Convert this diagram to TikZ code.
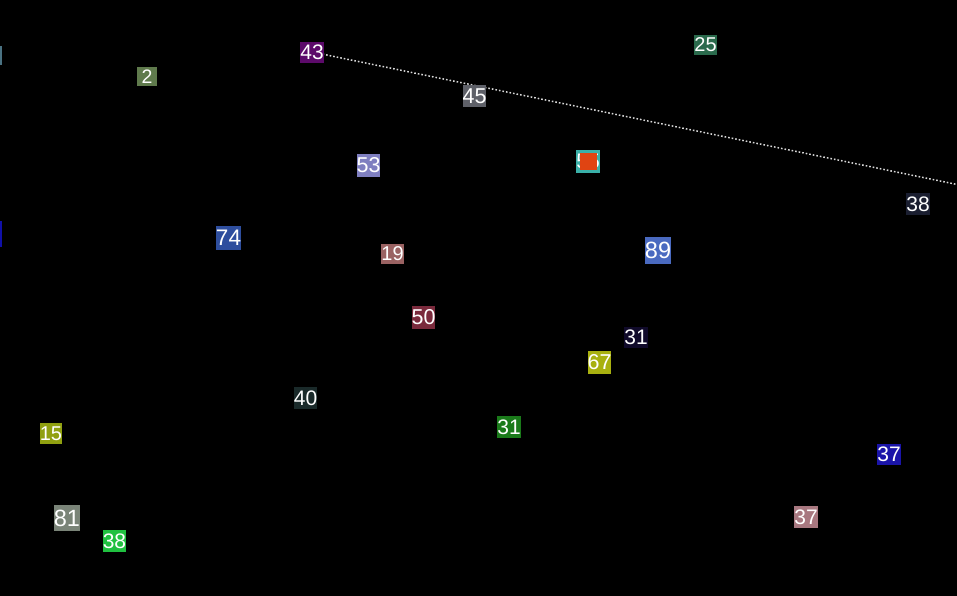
\documentclass[tikz,border=0pt]{standalone}
\usepackage{fontspec}
\setmainfont{Liberation Sans}
\definecolor{cA}{HTML}{4A7282}
\definecolor{cB}{HTML}{1010A8}
\definecolor{c2}{HTML}{5F7A4C}
\definecolor{c43}{HTML}{5C0A6A}
\definecolor{c45}{HTML}{5E6068}
\definecolor{c25}{HTML}{2A6A4C}
\definecolor{c53}{HTML}{7F7FC0}
\definecolor{cteal}{HTML}{3AB0A8}
\definecolor{corange}{HTML}{E04412}
\definecolor{c38a}{HTML}{1A1E30}
\definecolor{c74}{HTML}{2E4E9E}
\definecolor{c19}{HTML}{9A6262}
\definecolor{c89}{HTML}{4A6AC0}
\definecolor{c50}{HTML}{7A2A3C}
\definecolor{c31a}{HTML}{100A2A}
\definecolor{c67}{HTML}{A8B010}
\definecolor{c40}{HTML}{1A2A2A}
\definecolor{c31b}{HTML}{1A7A1A}
\definecolor{c15}{HTML}{90A010}
\definecolor{c81}{HTML}{7A8478}
\definecolor{c38b}{HTML}{20C040}
\definecolor{c37a}{HTML}{1A14A8}
\definecolor{c37b}{HTML}{A87880}
\tikzset{
  numbox/.style n args={4}{fill=#1, text=white, inner sep=0pt,
    minimum width=#2pt, minimum height=#3pt,
    font=\fontsize{#4}{#4}\selectfont},
  linkline/.style={draw=white!85!black, line width=1.5pt, dash pattern=on 1.6pt off 2pt}
}
\begin{document}
\begin{tikzpicture}[x=1pt,y=-1pt]
\fill[black] (0,0) rectangle (957,596);
\useasboundingbox (0,0) rectangle (957,596);
\clip (0,0) rectangle (957,596);
% coordinates and the link line
\coordinate (n43c) at (312,52);
\coordinate (far) at (1057,205);
\draw[linkline] (n43c) -- (far);
% edge nodes (mostly outside)
\node[numbox={cA}{24}{19}{20}] (ea) at (-10,56) {};
\node[numbox={cB}{26}{26}{20}] (eb) at (-11,234) {};
% numbered nodes
\node[numbox={c2}{20}{19}{19.5}] (n2) at (147,76.5) {2};
\node[numbox={c43}{22}{21}{21}] (n43) at (312,52.5) {43};
\node[numbox={c45}{23}{22}{21.5}] (n45) at (474.5,96) {45};
\node[numbox={c25}{21}{20}{20}] (n25) at (705.5,45) {25};
\node[numbox={c53}{23}{23}{21.5}] (n53) at (368.5,165.5) {53};
\node[numbox={cteal}{24}{23}{21}] (n55) at (588,161.5) {55};
\node[fill=corange, inner sep=0pt, minimum size=17pt] (sq) at (588.5,161.5) {};
\node[numbox={c38a}{22}{22}{21}] (n38a) at (918,204) {38};
\node[numbox={c74}{25}{24}{22.5}] (n74) at (228.5,238) {74};
\node[numbox={c19}{21}{20}{20}] (n19) at (392.5,254) {19};
\node[numbox={c89}{26}{27}{23.5}] (n89) at (658,250.5) {89};
\node[numbox={c50}{23}{23}{21.5}] (n50) at (423.5,317.5) {50};
\node[numbox={c31a}{22}{21}{21}] (n31a) at (636,337.5) {31};
\node[numbox={c67}{23}{23}{21.5}] (n67) at (599.5,362.5) {67};
\node[numbox={c40}{23}{22}{21}] (n40) at (305.5,398) {40};
\node[numbox={c31b}{22}{22}{21}] (n31b) at (509,427) {31};
\node[numbox={c15}{20}{21}{20}] (n15) at (51,433.5) {15};
\node[numbox={c81}{26}{26}{23.5}] (n81) at (67,518) {81};
\node[numbox={c38b}{23}{22}{21}] (n38b) at (114.5,541) {38};
\node[numbox={c37a}{22}{21}{21}] (n37a) at (889,454.5) {37};
\node[numbox={c37b}{22}{22}{21}] (n37b) at (806,517) {37};
\end{tikzpicture}
\end{document}
